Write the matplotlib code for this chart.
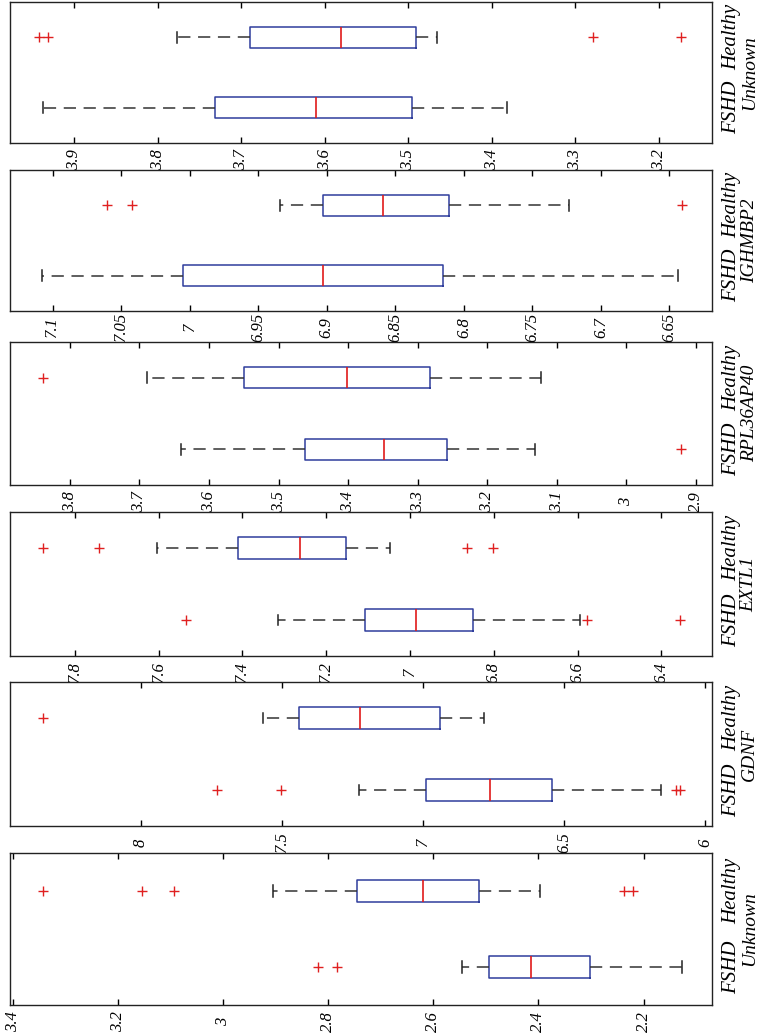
import matplotlib.pyplot as plt

# panels from top to bottom (figure is shown rotated)
genes = ["Unknown", "IGHMBP2", "RPL36AP40", "EXTL1", "GDNF", "Unknown"]
groups = ["FSHD", "Healthy"]

# [lower whisker, q1, median, q3, upper whisker]
fshd_stats = [
    [3.382, 3.495, 3.610, 3.731, 3.938],
    [6.644, 6.815, 6.903, 7.005, 7.108],
    [3.132, 3.258, 3.348, 3.462, 3.640],
    [6.593, 6.850, 6.985, 7.107, 7.316],
    [6.155, 6.542, 6.762, 6.990, 7.226],
    [2.128, 2.302, 2.414, 2.495, 2.545],
]
fshd_fliers = [
    [],
    [],
    [2.921],
    [7.535, 6.577, 6.355],
    [7.729, 7.503, 6.102, 6.089],
    [2.820, 2.784],
]
healthy_stats = [
    [3.465, 3.491, 3.580, 3.689, 3.777],
    [6.723, 6.811, 6.859, 6.903, 6.934],
    [3.123, 3.282, 3.401, 3.550, 3.689],
    [7.047, 7.152, 7.263, 7.410, 7.605],
    [6.783, 6.941, 7.222, 7.438, 7.566],
    [2.397, 2.514, 2.620, 2.745, 2.904],
]
healthy_fliers = [
    [3.942, 3.932, 3.278, 3.173],
    [7.060, 7.042, 6.641],
    [3.839],
    [7.877, 7.742, 6.863, 6.801],
    [8.347],
    [3.342, 3.154, 3.093, 2.237, 2.220],
]

tick_vals = [
    [3.9, 3.8, 3.7, 3.6, 3.5, 3.4, 3.3, 3.2],
    [7.1, 7.05, 7.0, 6.95, 6.9, 6.85, 6.8, 6.75, 6.7, 6.65],
    [3.8, 3.7, 3.6, 3.5, 3.4, 3.3, 3.2, 3.1, 3.0, 2.9],
    [7.8, 7.6, 7.4, 7.2, 7.0, 6.8, 6.6, 6.4],
    [8.0, 7.5, 7.0, 6.5, 6.0],
    [3.4, 3.2, 3.0, 2.8, 2.6, 2.4, 2.2],
]
tick_text = [
    ["3.9", "3.8", "3.7", "3.6", "3.5", "3.4", "3.3", "3.2"],
    ["7.1", "7.05", "7", "6.95", "6.9", "6.85", "6.8", "6.75", "6.7", "6.65"],
    ["3.8", "3.7", "3.6", "3.5", "3.4", "3.3", "3.2", "3.1", "3", "2.9"],
    ["7.8", "7.6", "7.4", "7.2", "7", "6.8", "6.6", "6.4"],
    ["8", "7.5", "7", "6.5", "6"],
    ["3.4", "3.2", "3", "2.8", "2.6", "2.4", "2.2"],
]
x_limits = [
    (3.977, 3.136),
    (7.131, 6.619),
    (3.886, 2.877),
    (7.955, 6.279),
    (8.464, 5.976),
    (3.405, 2.070),
]

plt.rcParams['font.family'] = ['Liberation Serif', 'DejaVu Serif']

W, H = 765, 1036
fig = plt.figure(figsize=(W / 100, H / 100), dpi=100)

# pixel rows of each panel (top, bottom)
rows = [(2, 143), (170, 311), (342, 485), (512, 656), (682, 826), (853, 1005)]
left_px, right_px = 10, 712


def make_stats(s, fl, name):
    return dict(whislo=s[0], q1=s[1], med=s[2], q3=s[3], whishi=s[4],
                fliers=fl, label=name)


for i, gene in enumerate(genes):
    top, bot = rows[i]
    ax = fig.add_axes([left_px / W, 1 - bot / H,
                       (right_px - left_px) / W, (bot - top) / H])
    stats = [make_stats(fshd_stats[i], fshd_fliers[i], groups[0]),
             make_stats(healthy_stats[i], healthy_fliers[i], groups[1])]
    ax.bxp(stats, positions=[1, 2], widths=0.3, orientation='horizontal',
           capwidths=0.15,
           boxprops=dict(color='#2f3d9c', linewidth=1.1),
           medianprops=dict(color='#e01a1a', linewidth=1.2),
           whiskerprops=dict(color='#333333', linewidth=1.1,
                             linestyle=(0, (8, 5))),
           capprops=dict(color='#222222', linewidth=1.1),
           flierprops=dict(marker='+', markeredgecolor='#e02020',
                           markersize=7, linestyle='none'))
    ax.set_xlim(*x_limits[i])
    ax.set_ylim(0.5, 2.5)

    ax.set_xticks(tick_vals[i], tick_text[i])
    ax.tick_params(axis='x', direction='in', top=True, length=4,
                   width=1, pad=12)
    for t in ax.get_xticklabels():
        t.set_rotation(90)
        t.set_va('center')
        t.set_fontsize(12)
        t.set_fontstyle('italic')

    ax.set_yticks([1, 2], groups)
    ax.yaxis.tick_right()
    ax.tick_params(axis='y', length=0, pad=7)
    for t in ax.get_yticklabels():
        t.set_rotation(90)
        t.set_va('center')
        t.set_fontsize(15)
        t.set_fontstyle('italic')

    ax.yaxis.set_label_position('right')
    ax.set_ylabel(gene, fontsize=14, fontstyle='italic', rotation=90,
                  labelpad=0)
    for sp in ax.spines.values():
        sp.set_linewidth(1.0)
        sp.set_color('#222222')

fig.savefig('out.png', dpi=100)
